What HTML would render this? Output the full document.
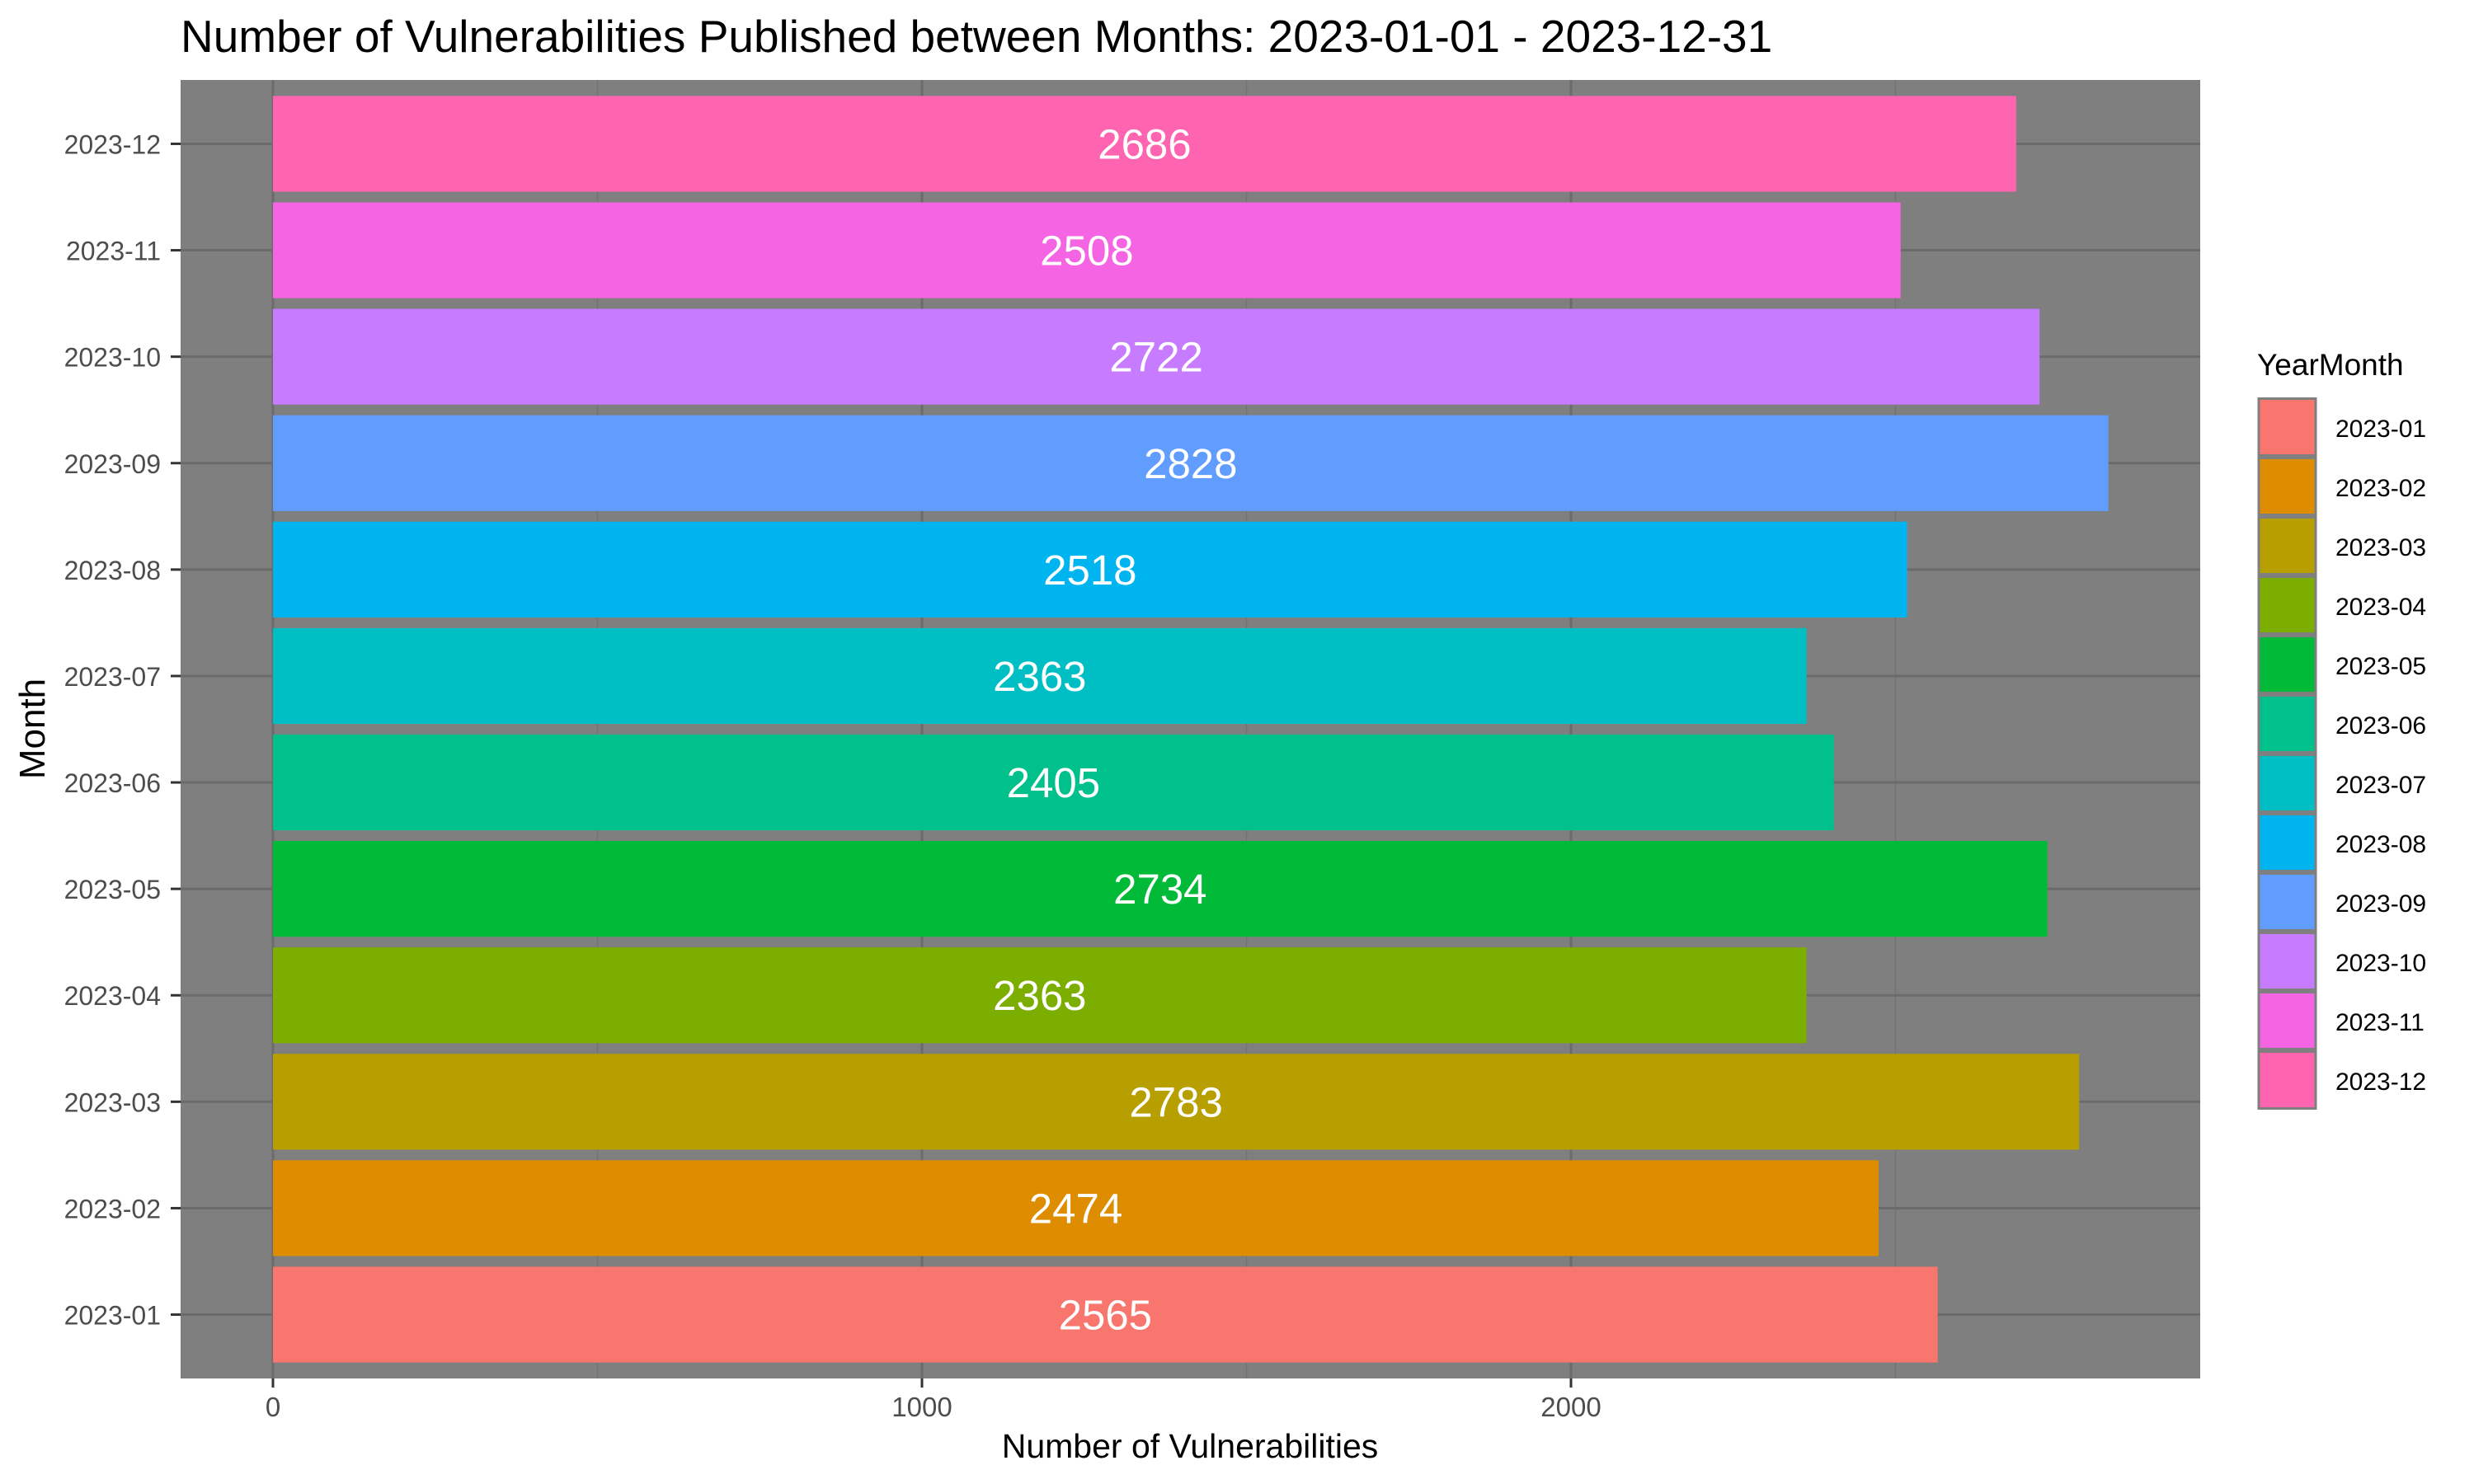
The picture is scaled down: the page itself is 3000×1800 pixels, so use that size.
<!DOCTYPE html>
<html><head><meta charset="utf-8"><style>
html,body{margin:0;padding:0;background:#fff;}
svg{display:block;font-family:"Liberation Sans",Arial,sans-serif;}
</style></head><body>
<svg id="chart" width="3000" height="1800" viewBox="0 0 3000 1800" xmlns="http://www.w3.org/2000/svg">
<rect x="0" y="0" width="3000" height="1800" fill="#ffffff"/>
<text x="219" y="63" font-size="55" fill="#000">Number of Vulnerabilities Published between Months: 2023-01-01 - 2023-12-31</text>
<rect x="219" y="97" width="2449" height="1575" fill="#7f7f7f"/>
<g id="grid"></g><g id="bars"></g><g id="axes"></g><g id="legend"></g>
<text x="1443" y="1768" font-size="41" text-anchor="middle" fill="#000">Number of Vulnerabilities</text>
<text x="0" y="0" font-size="44" text-anchor="middle" fill="#000" transform="translate(54,884) rotate(-90)">Month</text>
</svg>
<script>
const categories = ["2023-01","2023-02","2023-03","2023-04","2023-05","2023-06","2023-07","2023-08","2023-09","2023-10","2023-11","2023-12"];
const values = [2565,2474,2783,2363,2734,2405,2363,2518,2828,2722,2508,2686];
const colors = ["#F8766D","#DE8C00","#B79F00","#7CAE00","#00BA38","#00C08B","#00BFC4","#00B4F0","#619CFF","#C77CFF","#F564E3","#FF64B0"];
const xTicks = [0,1000,2000];
const xMinor = [500,1500,2500];

const NS="http://www.w3.org/2000/svg";
const panel={x:219,y:97,w:2449,h:1575};
const x0=331, scale=0.787;
function xs(v){return x0+v*scale;}
const step=panel.h/(categories.length+0.2);
function yc(i){return panel.y+panel.h-step*(0.6+i);}
function mk(tag,attrs,parent){const e=document.createElementNS(NS,tag);for(const k in attrs)e.setAttribute(k,attrs[k]);parent.appendChild(e);return e;}
const grid=document.getElementById('grid'),bars=document.getElementById('bars'),axes=document.getElementById('axes'),legend=document.getElementById('legend');

xMinor.forEach(v=>{const l=mk('line',{x1:xs(v),x2:xs(v),y1:panel.y,y2:panel.y+panel.h,stroke:'#737373','stroke-width':1.5},grid);

});
xTicks.forEach(v=>{const l=mk('line',{x1:xs(v),x2:xs(v),y1:panel.y,y2:panel.y+panel.h,stroke:'#6b6b6b','stroke-width':3},grid);


const t=mk('line',{x1:xs(v),x2:xs(v),y1:panel.y+panel.h,y2:panel.y+panel.h+11,stroke:'#333','stroke-width':3},axes);


const tx=mk('text',{x:xs(v),y:1718,'font-size':33,'text-anchor':'middle',fill:'#4d4d4d'},axes);tx.textContent=v;

});
categories.forEach((c,i)=>{const y=yc(i);
const g=mk('line',{x1:panel.x,x2:panel.x+panel.w,y1:y,y2:y,stroke:'#6b6b6b','stroke-width':3},grid);


const t=mk('line',{x1:panel.x-12,x2:panel.x,y1:y,y2:y,stroke:'#333','stroke-width':3},axes);


const tx=mk('text',{x:195,y:y+12,'font-size':32,'text-anchor':'end',fill:'#4d4d4d'},axes);tx.textContent=c;


const bh=step*0.9;
const r=mk('rect',{x:xs(0),y:y-bh/2,width:xs(values[i])-xs(0),height:bh,fill:colors[i]},bars);


const lb=mk('text',{x:xs(values[i]/2),y:y+18,'font-size':51,'text-anchor':'middle',fill:'#fff'},bars);lb.textContent=values[i];


});
const lt=mk('text',{x:2737,y:455,'font-size':37,fill:'#000'},legend);lt.textContent='YearMonth';


categories.forEach((c,i)=>{const y=482+i*72;
const k=mk('rect',{x:2739,y:y+1.5,width:69,height:69,fill:colors[i],stroke:'#7f7f7f','stroke-width':3},legend);


const t=mk('text',{x:2832,y:y+48,'font-size':30,fill:'#000'},legend);t.textContent=c;

});
</script>
</body></html>
